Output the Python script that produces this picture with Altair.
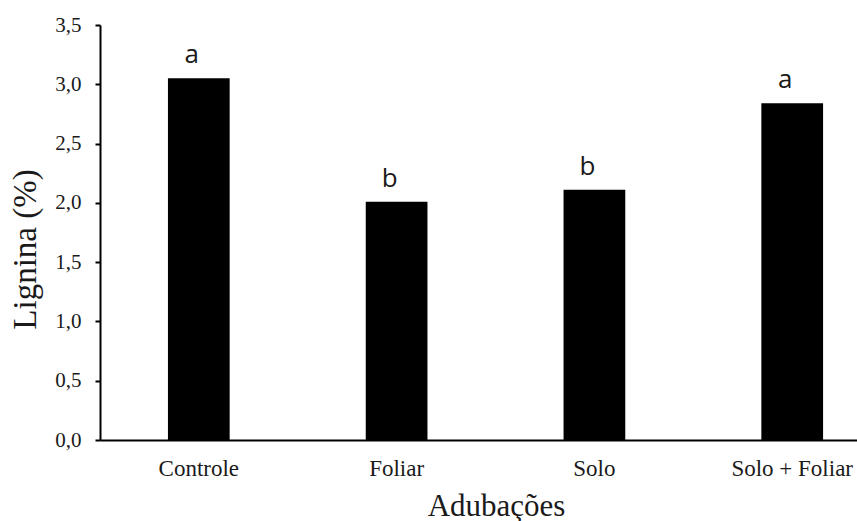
import altair as alt
import pandas as pd

# Lignin content (%) by fertilisation treatment, with mean-comparison letters
adubacoes = ["Controle", "Foliar", "Solo", "Solo + Foliar"]
lignina = [3.05, 2.01, 2.11, 2.84]
letras = ["a", "b", "b", "a"]
y_ticks = [0.0, 0.5, 1.0, 1.5, 2.0, 2.5, 3.0, 3.5]

df = pd.DataFrame({"adubacao": adubacoes, "lignina": lignina, "letra": letras})

SERIF = "Liberation Serif"
INK = "#1a1a1a"

x_enc = alt.X(
    "adubacao:N",
    sort=adubacoes,
    scale=alt.Scale(paddingInner=0.688, paddingOuter=0.2575, align=0.667),
    axis=alt.Axis(
        title="Adubações",
        ticks=False,
        tickSize=0,
        labelAngle=0,
        labelFont=SERIF,
        labelFontSize=23,
        labelColor=INK,
        labelPadding=17,
        domainColor="black",
        domainWidth=2,
        titleFont=SERIF,
        titleFontSize=31,
        titleFontWeight="normal",
        titleColor=INK,
        titleX=396,
        titleY=75,
        titleAlign="center",
        titleBaseline="alphabetic",
    ),
)

y_enc = alt.Y(
    "lignina:Q",
    scale=alt.Scale(domain=[0, 3.5], nice=False, zero=True),
    axis=alt.Axis(
        values=y_ticks,
        labelExpr="replace(format(datum.value, '.1f'), '.', ',')",
        grid=False,
        tickSize=5,
        tickWidth=2,
        tickColor="black",
        domainColor="black",
        domainWidth=2,
        labelFont=SERIF,
        labelFontSize=21,
        labelColor=INK,
        labelPadding=14,
        title="Lignina (%)",
        titleFont=SERIF,
        titleFontSize=33,
        titleFontWeight="normal",
        titleColor=INK,
        titleAngle=270,
        titleX=-65,
        titleY=224,
        titleAlign="center",
        titleBaseline="alphabetic",
    ),
)

bars = alt.Chart(df).mark_bar(color="black").encode(x=x_enc, y=y_enc)

letters = alt.Chart(df).mark_text(
    font="Open Sans",
    fontSize=26,
    color=INK,
    baseline="alphabetic",
    dy=-15,
    dx=-7,
).encode(
    x=alt.X("adubacao:N", sort=adubacoes),
    y=alt.Y("lignina:Q"),
    text="letra:N",
)

chart = (
    alt.layer(bars, letters)
    .properties(
        width=757,
        height=415,
        padding={"left": 100, "top": 25, "right": 0, "bottom": 81},
        autosize=alt.AutoSizeParams(type="none"),
        background="white",
    )
    .configure_view(stroke=None)
)

chart.save("out.html", embed_options={"renderer": "svg", "actions": False})
